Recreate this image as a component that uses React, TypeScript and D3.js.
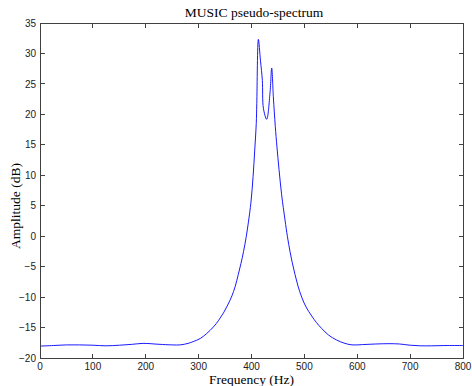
import React from "react";
import * as d3 from "d3";

const title = "MUSIC pseudo-spectrum";
const xLabel = "Frequency (Hz)";
const yLabel = "Amplitude (dB)";

const xTicks = [0, 100, 200, 300, 400, 500, 600, 700, 800];
const yTicks = [-20, -15, -10, -5, 0, 5, 10, 15, 20, 25, 30, 35];

const freq = [
  0, 25, 50, 75, 100, 125, 150, 175, 195, 225, 250, 265, 280, 290, 303, 315, 328, 338, 347, 355,
  363, 369, 375, 380, 385, 390, 394, 399, 403, 406, 409, 410, 413, 417, 420.5, 422.5, 428.7, 435,
  438.2, 441.3, 445, 448, 452, 457, 463.4, 468, 472.8, 477, 482.3, 488, 494.9, 503, 513.8, 523,
  532.7, 546, 561, 575, 590, 610, 635, 660, 680, 700, 720, 740, 770, 800,
];
const amp = [
  -18.05, -17.95, -17.85, -17.85, -17.9, -18.0, -17.9, -17.75, -17.6, -17.75, -17.85, -17.85,
  -17.6, -17.3, -16.8, -16.0, -14.9, -13.8, -12.6, -11.3, -9.8, -8.3, -6.3, -4.5, -2.5, -0.1, 2.2,
  5.6, 9.8, 14.0, 18.5, 21.8, 32.3, 28.8, 25.6, 21, 19.2, 23.5, 27.6, 22.9, 18.0, 14.8, 11.0, 6.8,
  2.65, -0.1, -2.5, -4.3, -6.3, -8.2, -10.0, -11.6, -13.1, -14.2, -15.15, -16.25, -17.05, -17.55,
  -17.85, -17.8, -17.7, -17.65, -17.7, -17.9, -18.0, -18.0, -17.95, -17.95,
];

const W = 472;
const H = 386;
const m = { left: 40, right: 463, top: 23, bottom: 358 };

export default function App() {
  const x = d3.scaleLinear().domain([0, 800]).range([m.left, m.right]);
  const y = d3.scaleLinear().domain([-20, 35]).range([m.bottom, m.top]);
  const pts = freq.map((f, i) => [f, amp[i]] as [number, number]);
  const line = d3
    .line<[number, number]>()
    .x((d) => x(d[0]))
    .y((d) => y(d[1]))
    .curve(d3.curveCatmullRom.alpha(0.5));
  const fmt = (v: number) => (v < 0 ? "\u2212" + Math.abs(v) : String(v));
  const tl = 4.5;
  const axisColor = "#404040";
  const sans = "'Liberation Sans', Arial, sans-serif";
  const serif = "'Liberation Serif', 'Times New Roman', serif";
  return (
    <div style={{ position: "absolute", left: 0, top: 0 }}>
      <svg width={W} height={H} style={{ display: "block", background: "#fff" }}>
        <rect x={0} y={0} width={W} height={H} fill="#fff" />
        <path d={line(pts) || ""} fill="none" stroke="#0000ff" strokeWidth={0.9} />
        <rect
          x={m.left}
          y={m.top}
          width={m.right - m.left}
          height={m.bottom - m.top}
          fill="none"
          stroke={axisColor}
          strokeWidth={1}
          shapeRendering="crispEdges"
        />
        {xTicks.map((t) => (
          <g key={"x" + t}>
            <line x1={x(t)} x2={x(t)} y1={m.bottom} y2={m.bottom - tl} stroke={axisColor} shapeRendering="crispEdges" />
            <line x1={x(t)} x2={x(t)} y1={m.top} y2={m.top + tl} stroke={axisColor} shapeRendering="crispEdges" />
            <text x={x(t)} y={370} fontFamily={sans} fontSize={10} textAnchor="middle" fill="#222">
              {fmt(t)}
            </text>
          </g>
        ))}
        {yTicks.map((t) => (
          <g key={"y" + t}>
            <line x1={m.left} x2={m.left + tl} y1={y(t)} y2={y(t)} stroke={axisColor} shapeRendering="crispEdges" />
            <line x1={m.right} x2={m.right - tl} y1={y(t)} y2={y(t)} stroke={axisColor} shapeRendering="crispEdges" />
            <text x={36} y={y(t) + 3.6} fontFamily={sans} fontSize={10} textAnchor="end" fill="#222">
              {fmt(t)}
            </text>
          </g>
        ))}
        <text x={254} y={17} fontFamily={serif} fontSize={13.5} textAnchor="middle" fill="#000">
          {title}
        </text>
        <text x={251.5} y={383.5} fontFamily={serif} fontSize={13.5} textAnchor="middle" fill="#000">
          {xLabel}
        </text>
        <text
          transform={`translate(20,206) rotate(-90)`}
          fontFamily={serif}
          fontSize={13.5}
          textAnchor="middle"
          fill="#000"
        >
          {yLabel}
        </text>
      </svg>
    </div>
  );
}
